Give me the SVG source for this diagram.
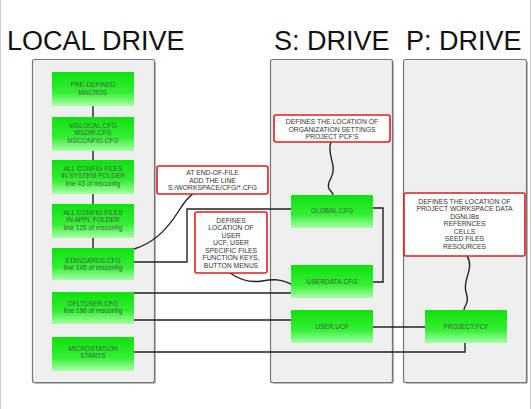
<svg xmlns="http://www.w3.org/2000/svg" width="532" height="409" viewBox="0 0 532 409">
<defs>
<linearGradient id="g" x1="0" y1="0" x2="0" y2="1">
<stop offset="0" stop-color="#10e010"/>
<stop offset="0.6" stop-color="#34ee34"/>
<stop offset="1" stop-color="#a8ffa8"/>
</linearGradient>
</defs>
<style>
.title{font-family:"Liberation Sans",Arial,sans-serif;font-size:27px;fill:#111}
.panel{fill:#efefef;stroke:#777;stroke-width:1.2}
.shadow{fill:#bbb}
.box{fill:url(#g)}
.bt{font-family:"Liberation Sans",Arial,sans-serif;font-size:6.6px;fill:#4a5a4a;text-anchor:middle}
.call{fill:#fff;stroke:#dd2020;stroke-width:1.6}
.ct{font-family:"Liberation Sans",Arial,sans-serif;font-size:6.8px;fill:#333;text-anchor:middle}
.ln{fill:none;stroke:#222;stroke-width:1.4}
</style>
<rect width="532" height="409" fill="#fff"/>
<line x1="0.5" y1="0" x2="0.5" y2="409" stroke="#ccc"/>
<line x1="530.5" y1="0" x2="530.5" y2="409" stroke="#ccc"/>
<text class="title" x="7" y="50">LOCAL DRIVE</text>
<text class="title" x="274" y="50">S: DRIVE</text>
<text class="title" x="406" y="50">P: DRIVE</text>
<g id="panel-local"><rect class="shadow" x="34" y="61" width="122" height="323" rx="2"/><rect class="panel" x="32.5" y="59.5" width="122" height="323" rx="2"/></g>
<g id="panel-s"><rect class="shadow" x="272" y="61" width="122" height="323" rx="2"/><rect class="panel" x="270.5" y="59.5" width="122" height="323" rx="2"/></g>
<g id="panel-p"><rect class="shadow" x="405" y="61" width="123" height="323" rx="2"/><rect class="panel" x="403.5" y="59.5" width="123" height="323" rx="2"/></g>
<g id="connectors">
<path class="ln" d="M93,106V117M93,151V160M93,194V204M93,238V248"/>
<path class="ln" d="M134,262H187V209H291"/>
<path class="ln" d="M134,249C155,243 168,228 178,212S190,196 193,194"/>
<path class="ln" d="M134,293H291M134,320H291"/>
<path class="ln" d="M134,352H465V343"/>
<path class="ln" d="M373,327H425"/>
<path class="ln" d="M373,208H383V282H373"/>
<path class="ln" d="M331,142C326,155 338,165 331,178S333,190 333,195"/>
<path class="ln" d="M230,273C240,280 250,283 262,281S280,279 291,284"/>
<path class="ln" d="M467,256C475,268 462,280 466,292S464,305 464,310"/>
</g>
<g id="predefined"><rect class="box" x="52" y="72" width="82" height="34"/><text class="bt" x="93" y="87">PRE-DEFINED</text><text class="bt" x="93" y="94.5">MACROS</text></g>
<g id="mslocal"><rect class="box" x="52" y="117" width="82" height="34"/><text class="bt" x="93" y="127.5">MSLOCAL.CFG</text><text class="bt" x="93" y="135">MSDIR.CFG</text><text class="bt" x="93" y="142.5">MSCONFIG.CFG</text></g>
<g id="system"><rect class="box" x="52" y="160" width="82" height="34"/><text class="bt" x="93" y="170.5">ALL CONFIG FILES</text><text class="bt" x="93" y="178">IN SYSTEM FOLDER</text><text class="bt" x="93" y="185.5">line 43 of msconfig</text></g>
<g id="appl"><rect class="box" x="52" y="204" width="82" height="34"/><text class="bt" x="93" y="214.5">ALL CONFIG FILES</text><text class="bt" x="93" y="222">IN APPL FOLDER</text><text class="bt" x="93" y="229.5">line 126 of msconfig</text></g>
<g id="standards"><rect class="box" x="52" y="248" width="82" height="32"/><text class="bt" x="93" y="262.5">STANDARDS.CFG</text><text class="bt" x="93" y="270">line 145 of msconfig</text></g>
<g id="dfltuser"><rect class="box" x="52" y="292" width="82" height="32"/><text class="bt" x="93" y="305.5">DFLTUSER.CFG</text><text class="bt" x="93" y="313">line 196 of msconfig</text></g>
<g id="microstation"><rect class="box" x="52" y="337" width="82" height="34"/><text class="bt" x="93" y="350.5">MICROSTATION</text><text class="bt" x="93" y="358">STARTS</text></g>
<g id="global"><rect class="box" x="291" y="195" width="82" height="33"/><text class="bt" x="332" y="213">GLOBAL.CFG</text></g>
<g id="userdata"><rect class="box" x="291" y="265" width="82" height="33"/><text class="bt" x="332" y="284">USERDATA.CFG</text></g>
<g id="userucf"><rect class="box" x="291" y="310" width="82" height="33"/><text class="bt" x="332" y="329">USER.UCF</text></g>
<g id="projectpcf"><rect class="box" x="425" y="310" width="82" height="33"/><text class="bt" x="466" y="329">PROJECT.PCF</text></g>
<g id="callout-eof"><rect class="call" x="157" y="166" width="111" height="28" rx="2"/><text class="ct" x="212.5" y="175">AT END-OF-FILE</text><text class="ct" x="212.5" y="182.5">ADD THE LINE</text><text class="ct" x="212.5" y="190">S:/WORKSPACE/CFG/*.CFG</text></g>
<g id="callout-user"><rect class="call" x="195" y="212" width="72" height="61" rx="2"/><text class="ct" x="231" y="222.5">DEFINES</text><text class="ct" x="231" y="230">LOCATION OF</text><text class="ct" x="231" y="237.5">USER</text><text class="ct" x="231" y="245">UCF, USER</text><text class="ct" x="231" y="252.5">SPECIFIC FILES</text><text class="ct" x="231" y="260">FUNCTION KEYS,</text><text class="ct" x="231" y="267.5">BUTTON MENUS</text></g>
<g id="callout-org"><rect class="call" x="274" y="115" width="116" height="27" rx="2"/><text class="ct" x="332" y="124">DEFINES THE LOCATION OF</text><text class="ct" x="332" y="131.5">ORGANIZATION SETTINGS</text><text class="ct" x="332" y="139">PROJECT PCF'S</text></g>
<g id="callout-project"><rect class="call" x="404" y="193" width="121" height="63" rx="2"/><text class="ct" x="464.5" y="203.5">DEFINES THE LOCATION OF</text><text class="ct" x="464.5" y="211">PROJECT WORKSPACE DATA</text><text class="ct" x="464.5" y="218.5">DGNLIBs</text><text class="ct" x="464.5" y="226">REFERNCES</text><text class="ct" x="464.5" y="233.5">CELLS</text><text class="ct" x="464.5" y="241">SEED FILES</text><text class="ct" x="464.5" y="248.5">RESOURCES</text></g>
</svg>
